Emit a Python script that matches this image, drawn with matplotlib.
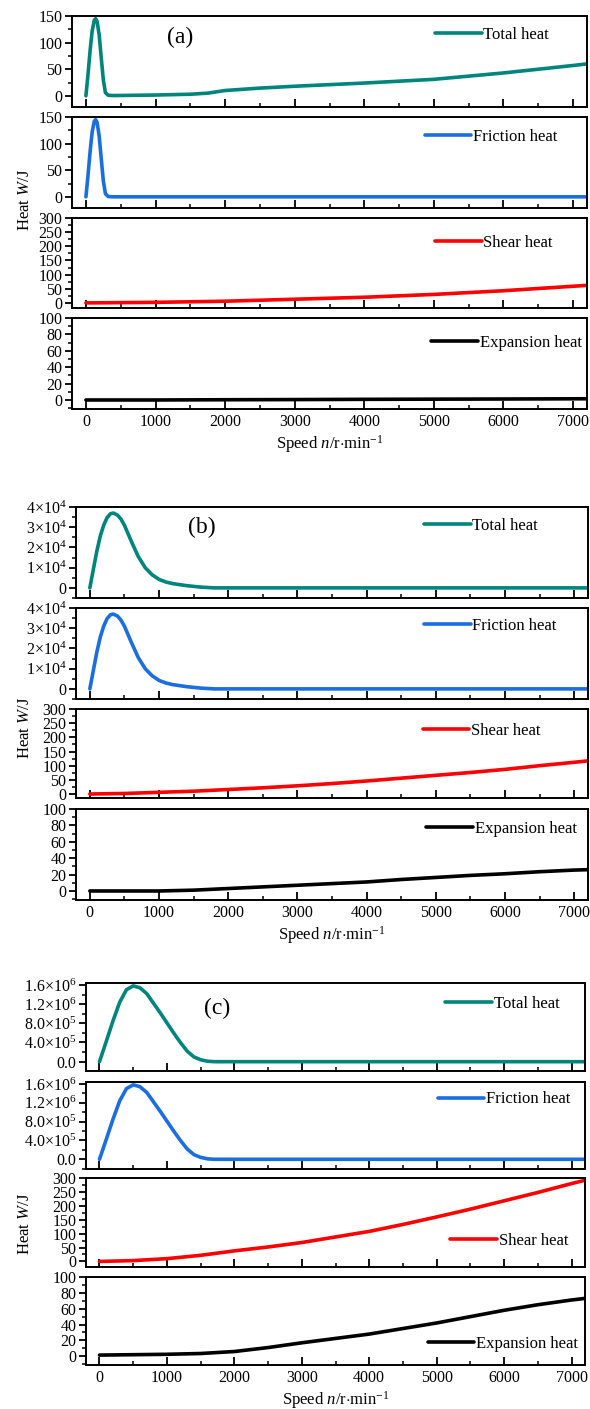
import numpy as np
import matplotlib
matplotlib.use('Agg')
import matplotlib.pyplot as plt
from matplotlib.ticker import MultipleLocator, FixedLocator, FuncFormatter

plt.rcParams['font.family'] = ['Liberation Serif', 'DejaVu Serif']
plt.rcParams['mathtext.fontset'] = 'custom'
plt.rcParams['mathtext.rm'] = 'Liberation Serif'
plt.rcParams['mathtext.it'] = 'Liberation Serif:italic'

# ---- data ----
# (a)
speed_a = [0, 30, 60, 90, 120, 140, 160, 190, 220, 250, 280, 320, 400, 1000, 1500, 1750,
           2000, 2500, 3000, 3500, 4000, 4500, 5000, 5500, 6000, 6500, 7000, 7200]
total_a = [0, 40, 85, 122, 142, 145, 140, 115, 72, 30, 6, 1, 0.5, 1.5, 3, 5,
           10, 14.5, 18, 21, 24, 27.5, 31, 37, 43, 50, 57, 60]
friction_a = [0, 40, 85, 122, 142, 145, 140, 115, 72, 30, 6, 0.5, 0, 0, 0, 0,
              0, 0, 0, 0, 0, 0, 0, 0, 0, 0, 0, 0]
speed_slow_a = [0, 1000, 2000, 3000, 4000, 5000, 6000, 7200]
shear_a = [0, 2, 6, 13, 20, 30, 43, 62]
expansion_a = [0, 0, 0.3, 0.5, 0.8, 1.0, 1.2, 1.5]

# (b)
speed_b = [0, 50, 100, 150, 200, 250, 300, 340, 400, 450, 500, 600, 700, 800, 900,
           1000, 1100, 1200, 1400, 1600, 1800, 3000, 5000, 7200]
total_b = [0, 9000, 18000, 25500, 31000, 34800, 36700, 37000, 36000, 34000, 31000,
           23000, 15500, 10000, 6500, 4200, 2900, 2100, 1100, 400, 0, 0, 0, 0]
friction_b = total_b
speed_slow_b = [0, 500, 1000, 1500, 2000, 2500, 3000, 3500, 4000, 4500, 5000, 5500,
                6000, 6500, 7000, 7200]
shear_b = [0, 2, 6, 10, 16, 22, 29, 37, 46, 56, 66, 76, 87, 100, 112, 117]
expansion_b = [0, 0, 0, 1, 3, 5, 7, 9, 11, 14, 16.5, 19, 21, 23.5, 25.5, 26]

# (c)
speed_c = [0, 100, 200, 300, 400, 500, 600, 700, 800, 900, 1000, 1100, 1200, 1300,
           1400, 1500, 1600, 1700, 3000, 5000, 7200]
total_c = [0, 0.42e6, 0.85e6, 1.24e6, 1.50e6, 1.58e6, 1.54e6, 1.42e6, 1.22e6, 1.02e6,
           0.81e6, 0.60e6, 0.40e6, 0.22e6, 0.10e6, 0.04e6, 0.01e6, 0, 0, 0, 0]
friction_c = total_c
speed_slow_c = [0, 500, 1000, 1500, 2000, 2500, 3000, 3500, 4000, 4500, 5000, 5500,
                6000, 6500, 7000, 7200]
shear_c = [0, 3, 10, 22, 38, 52, 68, 88, 108, 133, 160, 188, 218, 248, 280, 292]
expansion_c = [1.5, 2, 2.5, 3.5, 6, 11, 17, 22.5, 28, 35, 42, 50, 58, 65, 71, 73]

labels = ['Total heat', 'Friction heat', 'Shear heat', 'Expansion heat']
colors = ['#00857d', '#1a6ee0', '#ff0000', '#000000']

W, H = 590, 1409
fig = plt.figure(figsize=(W / 100, H / 100), dpi=100)


def sci_fmt(v, pos):
    if v == 0:
        return '0'
    e = int(np.floor(np.log10(abs(v))))
    m = v / 10 ** e
    return r'$%d{\times}10^{%d}$' % (round(m), e)


def sci_fmt1(v, pos):
    if v == 0:
        return '0.0'
    e = int(np.floor(np.log10(abs(v))))
    m = v / 10 ** e
    return r'$%.1f{\times}10^{%d}$' % (m, e)


groups = [
    dict(tag='(a)', tagpos=(180, 37), left=72, right=587,
         rows=[(16, 107), (117, 208), (218, 308), (318, 409)],
         series=[(speed_a, total_a), (speed_a, friction_a),
                 (speed_slow_a, shear_a), (speed_slow_a, expansion_a)],
         ylims=[(-21, 150), (-21, 150), (-18, 300), (-11, 100)],
         ymaj=[[0, 50, 100, 150], [0, 50, 100, 150], list(range(0, 301, 50)), list(range(0, 101, 20))],
         ymin=[25, 25, 25, 10], fmt=[None] * 4,
         leg=[(0.705, 0.79), (0.685, 0.78), (0.705, 0.725), (0.698, 0.725)],
         ylab=200),
    dict(tag='(b)', tagpos=(202, 527), left=76, right=588,
         rows=[(507, 598), (608, 699), (709, 798), (809, 900)],
         series=[(speed_b, total_b), (speed_b, friction_b),
                 (speed_slow_b, shear_b), (speed_slow_b, expansion_b)],
         ylims=[(-5000, 40000), (-5000, 40000), (-14, 300), (-11, 100)],
         ymaj=[[0, 1e4, 2e4, 3e4, 4e4], [0, 1e4, 2e4, 3e4, 4e4], list(range(0, 301, 50)), list(range(0, 101, 20))],
         ymin=[5000, 5000, 25, 10], fmt=[sci_fmt, sci_fmt, None, None],
         leg=[(0.68, 0.79), (0.68, 0.805), (0.677, 0.75), (0.684, 0.777)],
         ylab=728),
    dict(tag='(c)', tagpos=(217, 1008), left=86, right=585,
         rows=[(983, 1071), (1082, 1169), (1178, 1267), (1277, 1365)],
         series=[(speed_c, total_c), (speed_c, friction_c),
                 (speed_slow_c, shear_c), (speed_slow_c, expansion_c)],
         ylims=[(-1.94e5, 1.64e6), (-2.06e5, 1.64e6), (-20, 300), (-11, 100)],
         ymaj=[[0, 4e5, 8e5, 1.2e6, 1.6e6], [0, 4e5, 8e5, 1.2e6, 1.6e6], list(range(0, 301, 50)), list(range(0, 101, 20))],
         ymin=[2e5, 2e5, 25, 10], fmt=[sci_fmt1, sci_fmt1, None, None],
         leg=[(0.72, 0.76), (0.705, 0.80), (0.73, 0.295), (0.685, 0.235)],
         ylab=1224),
]

for g in groups:
    for i, (top, bot) in enumerate(g['rows']):
        rect = [g['left'] / W, 1 - bot / H, (g['right'] - g['left']) / W, (bot - top) / H]
        ax = fig.add_axes(rect)
        xs, ys = g['series'][i]
        ax.plot(xs, ys, color=colors[i], lw=2.6, label=labels[i], solid_capstyle='round')
        ax.set_xlim(-200, 7200)
        ax.set_ylim(*g['ylims'][i])
        ax.xaxis.set_major_locator(MultipleLocator(1000))
        ax.xaxis.set_minor_locator(MultipleLocator(500))
        ax.yaxis.set_major_locator(FixedLocator(g['ymaj'][i]))
        ax.yaxis.set_minor_locator(MultipleLocator(g['ymin'][i]))
        if g['fmt'][i] is not None:
            ax.yaxis.set_major_formatter(FuncFormatter(g['fmt'][i]))
        ax.tick_params(axis='x', which='major', direction='in', length=6, width=1.3, labelsize=11.5)
        ax.tick_params(axis='x', which='minor', direction='in', length=3, width=1.1)
        ax.tick_params(axis='y', which='major', direction='out', length=5, width=1.3, labelsize=11.5, pad=2)
        ax.tick_params(axis='y', which='minor', direction='out', length=3, width=1.1)
        for sp in ax.spines.values():
            sp.set_linewidth(1.4)
        if i < 3:
            ax.tick_params(axis='x', labelbottom=False)
        else:
            ax.set_xlabel(r'Speed $\mathit{n}$/r$\cdot$min$^{\mathregular{-1}}$', fontsize=12, labelpad=2)
        lx, ly = g['leg'][i]
        ax.legend(loc='center left', bbox_to_anchor=(lx, ly), frameon=False, fontsize=12,
                  handlelength=2.8, handletextpad=0.1, borderaxespad=0, borderpad=0)
        if i == 0:
            fig.text(g['tagpos'][0] / W, 1 - g['tagpos'][1] / H, g['tag'], fontsize=17,
                     ha='center', va='center')
    fig.text(25 / W, 1 - g['ylab'] / H, r'Heat $\mathit{W}$/J', rotation=90,
             fontsize=12, ha='center', va='center')

fig.savefig('out.png', dpi=100)
